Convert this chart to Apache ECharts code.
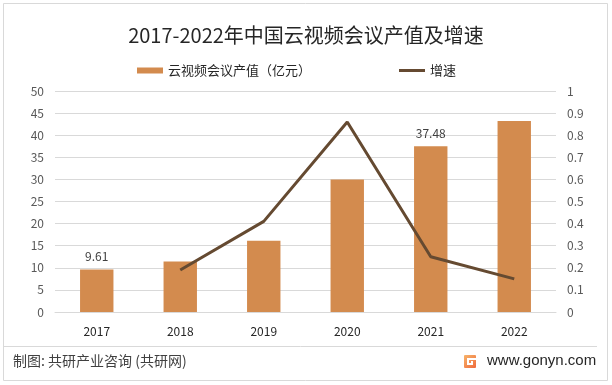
<!DOCTYPE html>
<html>
<head>
<meta charset="utf-8">
<script src="https://cdn.jsdelivr.net/npm/echarts@6/dist/echarts.min.js"></script>
<style>html,body{margin:0;padding:0;background:#fff;}#c{width:612px;height:385px;}</style>
</head>
<body>
<div id="c"></div>
<script>
var years = ['2017', '2018', '2019', '2020', '2021', '2022'];
var outputValue = [9.61, 11.43, 16.1, 30.0, 37.48, 43.2];
var growthRate = [null, 0.19, 0.41, 0.86, 0.25, 0.15];
var labeledYears = ['2017', '2021'];
var leftTicks = {min: 0, max: 50, interval: 5};
var rightTicks = {min: 0, max: 1, interval: 0.1};

var FONT = '"Noto Sans CJK SC", "Noto Sans", sans-serif';
var chart = echarts.init(document.getElementById('c'), null, {renderer: 'canvas'});

var barData = outputValue.map(function (v, i) {
  return {
    value: v,
    label: {show: labeledYears.indexOf(years[i]) >= 0}
  };
});

chart.setOption({
  backgroundColor: '#ffffff',
  animation: false,
  textStyle: {fontFamily: FONT},
  title: {
    text: '2017-2022年中国云视频会议产值及增速',
    left: 'center',
    top: 20,
    textStyle: {fontSize: 20, fontWeight: 'normal', color: '#262626', fontFamily: FONT}
  },
  legend: {
    left: 137,
    top: 64,
    padding: 0,
    itemWidth: 26,
    itemHeight: 6,
    itemGap: 88,
    textStyle: {fontSize: 13, color: '#262626', fontFamily: FONT},
    data: [
      {name: '云视频会议产值（亿元）', icon: 'rect'},
      {name: '增速', icon: 'path://M0,0H26V3H0Z'}
    ]
  },
  grid: {left: 55, right: 56, top: 91, bottom: 73, containLabel: false},
  xAxis: {
    type: 'category',
    data: years,
    axisLine: {show: true, lineStyle: {color: '#d9d9d9'}},
    axisTick: {show: false},
    axisLabel: {color: '#262626', fontSize: 12, margin: 13, fontFamily: FONT}
  },
  yAxis: [
    {
      type: 'value',
      min: leftTicks.min, max: leftTicks.max, interval: leftTicks.interval,
      axisLine: {show: false},
      axisTick: {show: false},
      splitLine: {lineStyle: {color: '#d9d9d9'}},
      axisLabel: {color: '#595959', fontSize: 12, margin: 11, fontFamily: FONT}
    },
    {
      type: 'value',
      min: rightTicks.min, max: rightTicks.max, interval: rightTicks.interval,
      axisLine: {show: false},
      axisTick: {show: false},
      splitLine: {show: false},
      axisLabel: {color: '#595959', fontSize: 12, margin: 11, fontFamily: FONT}
    }
  ],
  series: [
    {
      name: '云视频会议产值（亿元）',
      type: 'bar',
      yAxisIndex: 0,
      barWidth: '40%',
      itemStyle: {color: '#D38B4E'},
      label: {position: 'top', distance: 7, color: '#404040', fontSize: 12, fontFamily: FONT},
      data: barData
    },
    {
      name: '增速',
      type: 'line',
      yAxisIndex: 1,
      symbol: 'none',
      connectNulls: false,
      lineStyle: {color: '#654A31', width: 3},
      itemStyle: {color: '#654A31'},
      data: growthRate
    }
  ],
  graphic: [
    {type: 'rect', shape: {x: 3.5, y: 3.5, width: 604, height: 377}, style: {fill: 'none', stroke: '#d9d9d9', lineWidth: 1}, silent: true, z: -1},
    {type: 'line', shape: {x1: 4, y1: 346.5, x2: 597, y2: 346.5}, style: {stroke: '#d9d9d9', lineWidth: 1}, silent: true},
    {type: 'text', left: 13, top: 354, style: {text: '制图: 共研产业咨询 (共研网)', fill: '#404040', font: '14px ' + FONT}},
    {type: 'rect', shape: {x: 464, y: 355, width: 12, height: 13, r: 1},
      style: {fill: new echarts.graphic.LinearGradient(0, 0, 1, 1, [{offset: 0, color: '#F7B46A'}, {offset: 1, color: '#EF6A3C'}])}},
    {type: 'rect', shape: {x: 467, y: 358, width: 9, height: 2}, style: {fill: '#ffffff'}},
    {type: 'rect', shape: {x: 467, y: 360, width: 2, height: 5}, style: {fill: '#ffffff'}},
    {type: 'rect', shape: {x: 467, y: 363, width: 6, height: 2}, style: {fill: '#ffffff'}},
    {type: 'rect', shape: {x: 471, y: 361, width: 2, height: 3}, style: {fill: '#ffffff'}},
    {type: 'text', left: 487, top: 353, style: {text: 'www.gonyn.com', fill: '#262626', font: '15px "Liberation Sans", "Noto Sans", sans-serif'}}
  ]
});
</script>
</body>
</html>
